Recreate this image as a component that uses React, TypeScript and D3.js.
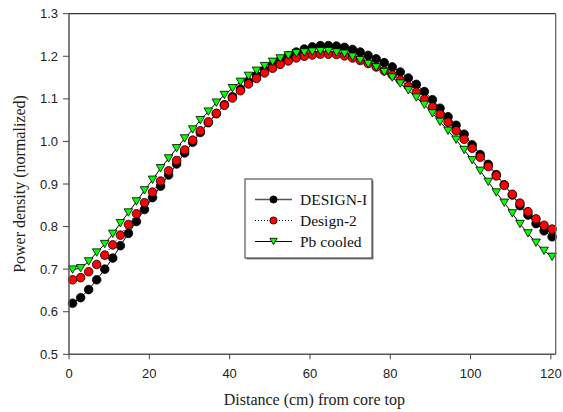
import React from "react";
import * as d3 from "d3";

const distance = [
  0.9, 2.9, 4.9, 6.9, 8.9, 10.9, 12.8, 14.8, 16.8, 18.8,
  20.8, 22.8, 24.8, 26.8, 28.8, 30.8, 32.7, 34.7, 36.7, 38.7,
  40.7, 42.7, 44.7, 46.7, 48.7, 50.7, 52.6, 54.6, 56.6, 58.6,
  60.6, 62.6, 64.6, 66.6, 68.6, 70.6, 72.5, 74.5, 76.5, 78.5,
  80.5, 82.5, 84.5, 86.5, 88.5, 90.5, 92.4, 94.4, 96.4, 98.4,
  100.4, 102.4, 104.4, 106.4, 108.4, 110.4, 112.3, 114.3, 116.3, 118.3,
  120.3,
];

const designI = [
  0.62, 0.633, 0.652, 0.675, 0.7, 0.726, 0.755, 0.784, 0.812, 0.84,
  0.868, 0.895, 0.921, 0.947, 0.973, 0.998, 1.021, 1.044, 1.065, 1.086,
  1.105, 1.123, 1.14, 1.155, 1.168, 1.18, 1.191, 1.201, 1.21, 1.217,
  1.222, 1.225, 1.225, 1.224, 1.221, 1.216, 1.21, 1.202, 1.194, 1.185,
  1.175, 1.163, 1.149, 1.134, 1.117, 1.098, 1.078, 1.058, 1.038, 1.017,
  0.992, 0.969, 0.946, 0.922, 0.898, 0.874, 0.849, 0.827, 0.807, 0.79,
  0.776,
];

const design2 = [
  0.675, 0.68, 0.694, 0.711, 0.733, 0.757, 0.78, 0.805, 0.83, 0.856,
  0.881, 0.907, 0.931, 0.955, 0.98, 1.003, 1.025, 1.046, 1.066, 1.085,
  1.102, 1.119, 1.135, 1.148, 1.161, 1.172, 1.181, 1.189, 1.196, 1.2,
  1.203, 1.205, 1.205, 1.204, 1.201, 1.196, 1.19, 1.183, 1.175, 1.166,
  1.156, 1.144, 1.13, 1.116, 1.099, 1.081, 1.064, 1.045, 1.025, 1.005,
  0.984, 0.963, 0.941, 0.919, 0.897, 0.876, 0.855, 0.835, 0.818, 0.803,
  0.794,
];

const pbCooled = [
  0.699, 0.702, 0.718, 0.739, 0.759, 0.783, 0.808, 0.833, 0.859, 0.885,
  0.91, 0.937, 0.96, 0.984, 1.007, 1.028, 1.05, 1.07, 1.091, 1.109,
  1.125, 1.14, 1.154, 1.166, 1.177, 1.187, 1.195, 1.202, 1.207, 1.209,
  1.211, 1.212, 1.212, 1.209, 1.206, 1.199, 1.191, 1.182, 1.174, 1.163,
  1.15, 1.136, 1.12, 1.103, 1.086, 1.066, 1.046, 1.025, 1.004, 0.98,
  0.956, 0.931, 0.905, 0.88, 0.856, 0.831, 0.806, 0.784, 0.762, 0.743,
  0.729,
];

const xTicks = [0, 20, 40, 60, 80, 100, 120];
const yTicks = [0.5, 0.6, 0.7, 0.8, 0.9, 1.0, 1.1, 1.2, 1.3];
const seriesNames = ["DESIGN-I", "Design-2", "Pb cooled"];
const xTitle = "Distance (cm) from core top";
const yTitle = "Power density (normalized)";

const W = 563;
const H = 412;
const L = 69;
const R = 555.7;
const T = 13.7;
const B = 354.3;

const tickFont = "'Liberation Sans', Arial, sans-serif";
const serif = "'Liberation Serif', 'Times New Roman', serif";

function triPath(cx: number, cy: number, w: number, h: number) {
  return `M${cx - w / 2},${cy - h / 2}L${cx + w / 2},${cy - h / 2}L${cx},${cy + h / 2}Z`;
}

export default function App() {
  const x = d3.scaleLinear().domain([0, 121.2]).range([L, R]);
  const y = d3.scaleLinear().domain([0.5, 1.3]).range([B, T]);

  const mk = (vals: number[]) =>
    d3
      .line<number>()
      .x((_, i) => x(distance[i]))
      .y((v) => y(v))(vals) || "";

  const series = [
    { name: seriesNames[0], vals: designI, fill: "#000000", dash: undefined as string | undefined, shape: "circle" },
    { name: seriesNames[1], vals: design2, fill: "#ff0000", dash: "1,2", shape: "circle" },
    { name: seriesNames[2], vals: pbCooled, fill: "#00ff00", dash: undefined, shape: "tri" },
  ];

  const legX = 245;
  const legY = 179;
  const legW = 127;
  const legH = 79;
  const rowY = [199.5, 220.5, 241.5];

  return (
    <svg
      width={W}
      height={H}
      style={{ position: "absolute", left: 0, top: 0, background: "#fff" }}
    >
      <rect x={0} y={0} width={W} height={H} fill="#fff" />
      {series.map((s) => (
        <path
          key={"l" + s.name}
          d={mk(s.vals)}
          fill="none"
          stroke="#000"
          strokeWidth={1}
          strokeDasharray={s.dash}
        />
      ))}
      {series.map((s) =>
        s.vals.map((v, i) =>
          s.shape === "circle" ? (
            <circle
              key={s.name + i}
              cx={x(distance[i])}
              cy={y(v)}
              r={4.3}
              fill={s.fill}
              stroke="#000"
              strokeWidth={0.8}
            />
          ) : (
            <path
              key={s.name + i}
              d={triPath(x(distance[i]), y(v), 8.6, 7.4)}
              fill={s.fill}
              stroke="#000"
              strokeWidth={0.8}
            />
          )
        )
      )}
      <line x1={L} y1={T} x2={R} y2={T} stroke="#000" strokeWidth={1} />
      <line x1={R} y1={T} x2={R} y2={B} stroke="#666" strokeWidth={1.3} />
      <line x1={L} y1={T} x2={L} y2={B} stroke="#555" strokeWidth={1.5} />
      <line x1={L} y1={B} x2={R} y2={B} stroke="#555" strokeWidth={1.5} />
      {yTicks.map((t) => (
        <g key={"y" + t}>
          <line x1={L - 6} x2={L} y1={y(t)} y2={y(t)} stroke="#444" strokeWidth={1} />
          <text
            x={L - 11}
            y={y(t) + 4.6}
            textAnchor="end"
            fontFamily={tickFont}
            fontSize={13}
            fill="#222"
          >
            {t.toFixed(1)}
          </text>
        </g>
      ))}
      {xTicks.map((t) => (
        <g key={"x" + t}>
          <line x1={x(t)} x2={x(t)} y1={B} y2={B + 5} stroke="#444" strokeWidth={1} />
          <text
            x={x(t)}
            y={378}
            textAnchor="middle"
            fontFamily={tickFont}
            fontSize={13}
            fill="#222"
          >
            {t}
          </text>
        </g>
      ))}
      <text
        x={(L + R) / 2 + 2}
        y={405}
        textAnchor="middle"
        fontFamily={serif}
        fontSize={16}
        fill="#222"
      >
        {xTitle}
      </text>
      <text
        transform={`translate(25,${(T + B) / 2}) rotate(-90)`}
        textAnchor="middle"
        fontFamily={serif}
        fontSize={16}
        fill="#222"
      >
        {yTitle}
      </text>
      <rect x={legX + 1.5} y={legY + 1.5} width={legW} height={legH} fill="#888" />
      <rect x={legX} y={legY} width={legW} height={legH} fill="#fff" stroke="#333" strokeWidth={1} />
      {series.map((s, k) => (
        <g key={"lg" + s.name}>
          <line
            x1={255}
            x2={292}
            y1={rowY[k]}
            y2={rowY[k]}
            stroke={k === 0 ? "#555" : "#000"}
            strokeWidth={k === 0 ? 1.6 : 1}
            strokeDasharray={s.dash}
          />
          {s.shape === "circle" ? (
            <circle cx={273.5} cy={rowY[k]} r={3.6} fill={s.fill} stroke="#000" strokeWidth={0.8} />
          ) : (
            <path d={triPath(273.5, rowY[k], 7.4, 6.4)} fill={s.fill} stroke="#000" strokeWidth={0.8} />
          )}
          <text
            x={300}
            y={rowY[k] + 5.5}
            fontFamily={serif}
            fontSize={15.5}
            fill="#111"
          >
            {s.name}
          </text>
        </g>
      ))}
    </svg>
  );
}
